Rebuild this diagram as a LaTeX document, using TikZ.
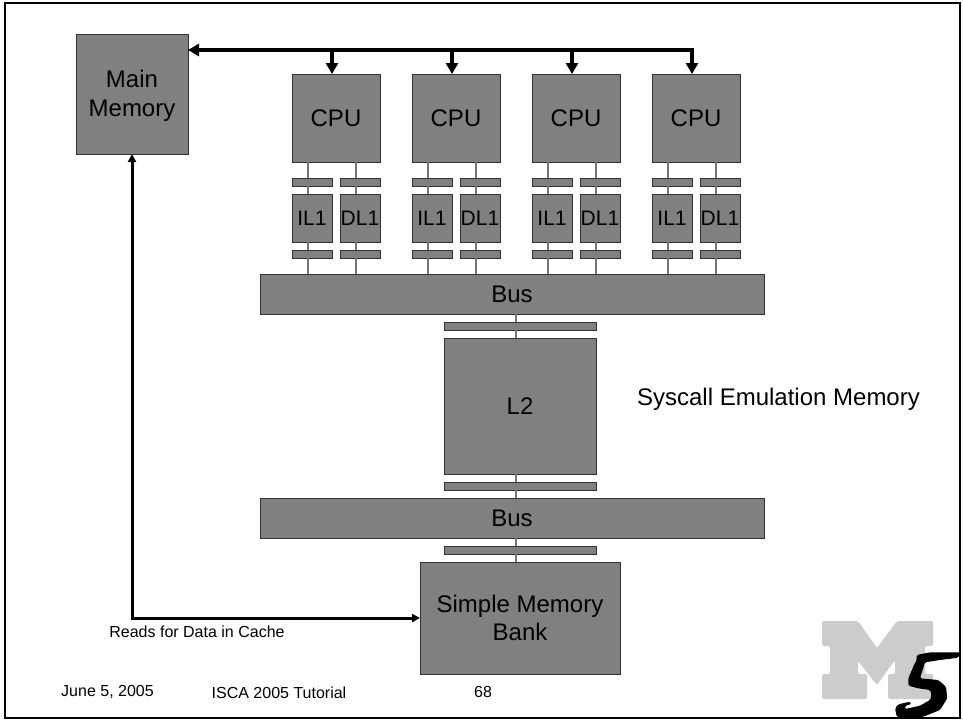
\documentclass[tikz,border=0pt]{standalone}
\usepackage{fontspec}
\setmainfont{Liberation Sans}
\usetikzlibrary{arrows.meta,calc,positioning}
\definecolor{boxgray}{HTML}{808080}
\definecolor{boxline}{HTML}{333333}
\definecolor{logogray}{HTML}{CCCCCC}
\tikzset{
  block/.style={draw=boxline, fill=boxgray, line width=1pt, inner sep=0pt, outer sep=0pt,
    align=center, font=\fontsize{24}{28.5}\selectfont},
  cachebar/.style={block, minimum width=40pt, minimum height=8pt},
  l2bar/.style={block, minimum width=152pt, minimum height=8pt},
  l1box/.style={block, minimum width=40pt, minimum height=48pt, font=\fontsize{21}{25}\selectfont},
  busbox/.style={block, minimum width=504pt, minimum height=40pt},
  link/.style={draw=boxgray!90!black, line width=2pt},
  widebus/.style={line width=4pt, -{Triangle[width=12pt,length=11pt]}},
  readline/.style={line width=3pt, {Triangle[width=8pt,length=8pt]}-{Triangle[width=8pt,length=8pt]}},
  footer/.style={font=\fontsize{16}{19}\selectfont, inner sep=0pt}
}
\newcommand{\lowered}[1]{\raisebox{-2pt}[\height][\depth]{#1}}
\begin{document}
\begin{tikzpicture}[x=1pt, y=-1pt]
\useasboundingbox (0,0) rectangle (963,720);
\draw[line width=2.6pt] (5,3) rectangle (960,718);

\node[block, minimum width=112pt, minimum height=120pt] (mem) at (132,94) {\lowered{Main}\\\lowered{Memory}};
\node[busbox] (bus1) at (512,294) {Bus};
\node[l2bar] (l2up) at (520,326) {};
\node[block, minimum width=152pt, minimum height=136pt, below=8pt of l2up] (l2) {L2};
\node[l2bar, below=8pt of l2] (l2dn) {};
\node[busbox, below=8pt of l2dn, xshift=-8pt] (bus2) {Bus};
\node[l2bar, below=8pt of bus2, xshift=8pt] (bankbar) {};
\node[block, minimum width=200pt, minimum height=112pt, below=8pt of bankbar] (bank) {Simple Memory\\Bank};

\foreach \n/\x in {1/336,2/456,3/576,4/696} {
  \node[block, minimum width=88pt, minimum height=88pt] (cpu\n) at (\x,118) {CPU};
  \node[cachebar, below=16pt of cpu\n.south west, anchor=north west] (ibar\n) {};
  \node[cachebar, below=16pt of cpu\n.south east, anchor=north east] (dbar\n) {};
  \node[l1box, below=8pt of ibar\n] (il\n) {IL1};
  \node[l1box, below=8pt of dbar\n] (dl\n) {DL1};
  \node[cachebar, below=8pt of il\n] (ibarb\n) {};
  \node[cachebar, below=8pt of dl\n] (dbarb\n) {};
  \coordinate (ix\n) at ($(il\n.north)+(-4,0)$);
  \coordinate (dx\n) at ($(dl\n.north)+(-4,0)$);
  \coordinate (tap\n) at ($(cpu\n.north)+(-4,-24)$);
  \foreach \c in {ix\n,dx\n} {
    \draw[link] (\c |- cpu\n.south) -- (\c |- ibar\n.north);
    \draw[link] (\c |- ibar\n.south) -- (\c |- il\n.north);
    \draw[link] (\c |- il\n.south) -- (\c |- ibarb\n.north);
    \draw[link] (\c |- ibarb\n.south) -- (\c |- bus1.north);
  }
}

\coordinate (l2x) at ($(l2.north)+(-4,0)$);
\draw[link] (l2x |- bus1.south) -- (l2x |- l2up.north);
\draw[link] (l2x |- l2up.south) -- (l2x |- l2.north);
\draw[link] (l2x |- l2.south) -- (l2x |- l2dn.north);
\draw[link] (l2x |- l2dn.south) -- (l2x |- bus2.north);
\draw[link] (l2x |- bus2.south) -- (l2x |- bankbar.north);
\draw[link] (l2x |- bankbar.south) -- (l2x |- bank.north);

\draw[widebus, {Triangle[width=12pt,length=11pt]}-{Triangle[width=12pt,length=11pt]}]
  (mem.east |- tap4) -- (tap4) -- (tap4 |- cpu4.north);
\draw[widebus] (tap1) -- (tap1 |- cpu1.north);
\draw[widebus] (tap2) -- (tap2 |- cpu2.north);
\draw[widebus] (tap3) -- (tap3 |- cpu3.north);
\draw[readline] (mem.south) |- (bank.west);

\node[font=\fontsize{24}{28}\selectfont, inner sep=0pt] (syscall) at (778.5,399) {Syscall Emulation Memory};
\node[footer] (reads) at (197,632) {Reads for Data in Cache};
\node[footer] (date) at (107.5,692) {June 5, 2005};
\node[footer] (tutorial) at (279,693) {ISCA 2005 Tutorial};
\node[footer] (page) at (483,692) {68};

% M5 logo
\fill[logogray, rounded corners=1.5pt] (822,621) -- (858,621) -- (877,648) -- (897,621) -- (933,621)
  -- (933,646) -- (925,646) -- (925,674) -- (933,674) -- (933,699) -- (888,699) -- (888,674)
  -- (895,674) -- (895,660) -- (877,685) -- (858,661) -- (858,674) -- (867,674) -- (867,699)
  -- (822,699) -- (822,674) -- (830,674) -- (830,646) -- (822,646) -- cycle;
\fill[black, rounded corners=1.5pt] (916.7,655) -- (930,652.3) -- (961.7,652.3) -- (958,657.7) -- (940,660)
  -- (925,662.3) -- (920,678.3) -- (938.3,680) -- (946,686.7) -- (947.3,698.3) -- (940,710)
  -- (923.3,716.7) -- (903.3,719) -- (896.7,716.7) -- (895,708.3) -- (898.3,704.3) -- (910,701.7)
  -- (911.7,704) -- (905,705.7) -- (905,709) -- (920,705.7) -- (930,700) -- (931.7,695) -- (930,690)
  -- (918.3,688.3) -- (908.3,685.7) -- (908.3,678.3) -- (914,665) -- (916.7,660) -- cycle;
\end{tikzpicture}
\end{document}
